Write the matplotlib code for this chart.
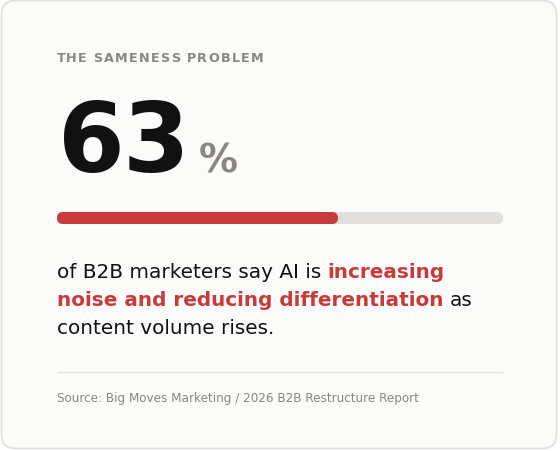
import matplotlib
matplotlib.use("Agg")
import matplotlib.pyplot as plt
from matplotlib.patches import FancyBboxPatch

# ---- data ----
kicker = "THE SAMENESS PROBLEM"
stat_value = 63
stat_unit = "%"
body_lines = [
    [("of B2B marketers say AI is", "normal"), ("increasing", "accent")],
    [("noise and reducing differentiation", "accent"), ("as", "normal")],
    [("content volume rises.", "normal")],
]
source = "Source: Big Moves Marketing / 2026 B2B Restructure Report"

# ---- style ----
W, H = 560, 452
BG = "#fbfbf9"
BORDER = "#e1dfda"
GRAY = "#8a8680"
RED = "#c83b3c"
TRACK = "#e2e0da"
INK = "#111111"
FONT = "DejaVu Sans"

fig = plt.figure(figsize=(W / 100, H / 100), dpi=100)
fig.patch.set_facecolor("white")
ax = fig.add_axes([0, 0, 1, 1])
ax.set_xlim(0, W)
ax.set_ylim(H, 0)
ax.axis("off")

card = FancyBboxPatch((1.5, 1.5), W - 5, H - 4, boxstyle="round,pad=0,rounding_size=14",
                      facecolor=BG, edgecolor=BORDER, linewidth=1.2)
ax.add_patch(card)

fig.canvas.draw()
renderer = fig.canvas.get_renderer()


def width_of(s, **kw):
    t = ax.text(0, 0, s, **kw)
    w = t.get_window_extent(renderer).width
    t.remove()
    return w


def space_w(**kw):
    return width_of("a a", **kw) - width_of("aa", **kw)


def spaced_text(x, y, s, spacing, **kw):
    for ch in s:
        if ch == " ":
            x += space_w(**kw) + spacing
            continue
        ax.text(x, y, ch, va="baseline", ha="left", **kw)
        x += width_of(ch + "a", **kw) - width_of("a", **kw) + spacing
    return x


# kicker
spaced_text(57, 62, kicker, 1.3, fontsize=9.2, fontweight="bold", color=GRAY, family=FONT)

# big stat
big_kw = dict(fontsize=69, fontweight="bold", color=INK, family=FONT)
spaced_text(58, 172, f"{stat_value}", -2.0, **big_kw)
ax.text(198.5, 172.5, stat_unit, fontsize=28, fontweight="bold", color=GRAY, family=FONT,
        va="baseline", ha="left")

# progress bar
bar_ax = fig.add_axes([57 / W, 1 - 225 / H, (503 - 57) / W, 12 / H])
bar_ax.set_xlim(0, 100)
bar_ax.set_ylim(0, 1)
bar_ax.axis("off")
px_per_x = (503 - 57) / 100.0
r = 6 / px_per_x
asp = 0.5 / r
bar_ax.add_patch(FancyBboxPatch((0, 0), 100, 1, boxstyle=f"round,pad=0,rounding_size={r}",
                                mutation_aspect=asp, facecolor=TRACK, edgecolor="none"))
bar_ax.add_patch(FancyBboxPatch((0, 0), stat_value, 1, boxstyle=f"round,pad=0,rounding_size={r}",
                                mutation_aspect=asp, facecolor=RED, edgecolor="none"))

# body text
body_size = 14.4
styles = {
    "normal": dict(fontsize=body_size, color=INK, family=FONT, fontweight="normal"),
    "accent": dict(fontsize=body_size, color=RED, family=FONT, fontweight="bold"),
}
baselines = [278, 306, 334]
for line, yb in zip(body_lines, baselines):
    x = 57
    for txt, st in line:
        kw = styles[st]
        ax.text(x, yb, txt, va="baseline", ha="left", **kw)
        x += width_of(txt + "a", **kw) - width_of("a", **kw)
        x += space_w(**styles["normal"])

# separator
ax.plot([57, 503], [372.5, 372.5], color="#e3e1dc", lw=1.0, solid_capstyle="butt")

# source
ax.text(57, 402, source, fontsize=8.64, color=GRAY, family=FONT, va="baseline", ha="left")

fig.savefig("out.png", dpi=100, facecolor="white")
